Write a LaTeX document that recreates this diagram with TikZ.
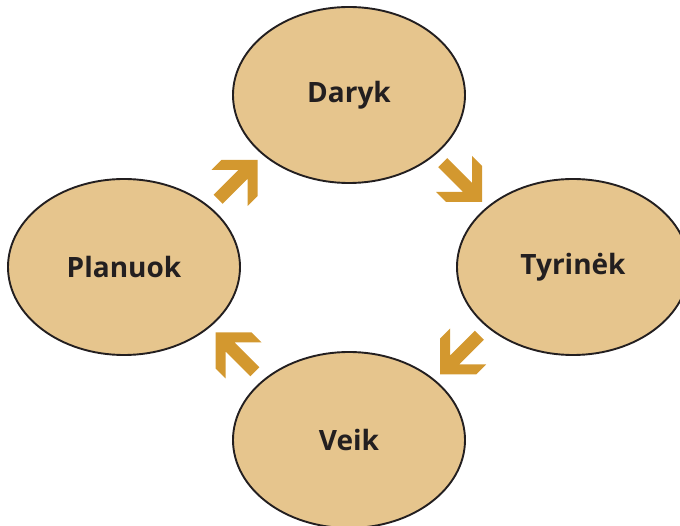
\documentclass[tikz,border=0pt]{standalone}
\usepackage{fontspec}
\setmainfont{Open Sans}
\usetikzlibrary{calc}
\usetikzlibrary{shapes.geometric}
\definecolor{stagefill}{RGB}{230,197,141}
\definecolor{arrowgold}{RGB}{211,152,47}
\definecolor{textdark}{RGB}{35,31,32}

\begin{document}
\begin{tikzpicture}[x=1pt, y=1pt,
    stage/.style={ellipse, draw=textdark, line width=1.9pt, fill=stagefill,
        minimum width=232pt, minimum height=176pt, inner sep=0pt,
        text=textdark, font=\fontsize{28}{34}\selectfont\bfseries}]
            % Frame
            \useasboundingbox (0,0) rectangle (680,525);
            \clip (0,0) rectangle (680,525);

            % Stages
            \node[stage] (daryk) at (349,430) {Daryk};
            \node[stage] (planuok) at (124,258) {Planuok};
            \node[stage] (tyrinek) at (573,258) {Tyrinėk};
            \node[stage] (veik) at (349,85) {Veik};

            % Arrows between stages
            \foreach \a/\b/\r in {planuok/daryk/0, daryk/tyrinek/-90, tyrinek/veik/180, veik/planuok/90}
                \fill[arrowgold, shift={($(\a)!0.5!(\b)$)}, rotate=\r]
                    (21,21) -- (21,-15) -- (11,-25) -- (11,2) -- (-13.8,-22.8)
                    -- (-22.8,-13.8) -- (2,11) -- (-25,11) -- (-15,21) -- cycle;
        \end{tikzpicture}
\end{document}
